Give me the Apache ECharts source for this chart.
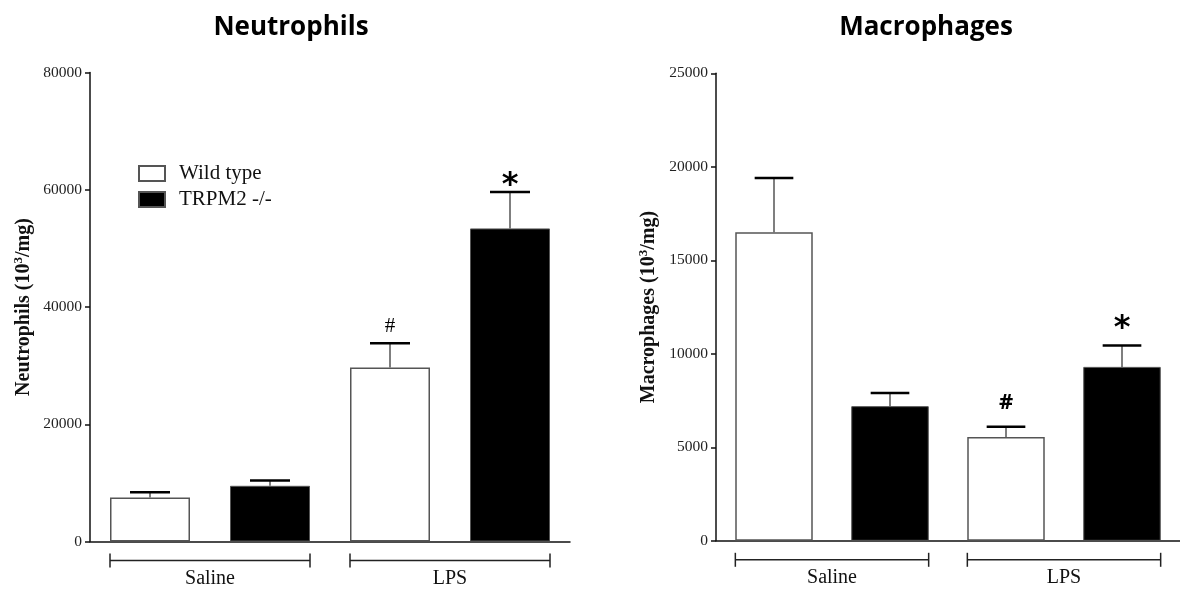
<!DOCTYPE html>
<html>
<head>
<meta charset="utf-8">
<title>Neutrophils and Macrophages</title>
<script src="https://cdn.jsdelivr.net/npm/echarts@6/dist/echarts.min.js"></script>
<style>
  html, body { margin: 0; padding: 0; background: #fff; }
  #chart { width: 1180px; height: 592px; }
</style>
</head>
<body>
<div id="chart"></div>
<script>
// Bar order: Wild type / TRPM2 -/- for Saline, then for LPS
const categories = ['Saline WT', 'Saline KO', 'LPS WT', 'LPS KO'];
const groups = ['Saline', 'LPS'];
const seriesNames = ['Wild type', 'TRPM2 -/-'];

// Neutrophils (10^3/mg): mean and mean + SEM
const neutroWT = [7500, null, 29700, null];
const neutroKO = [null, 9500, null, 53400];
const neutroUpper = [8400, 10400, 33800, 59600];
const neutroSig = ['', '', '#', '*'];

// Macrophages (10^3/mg): mean and mean + SEM
const macroWT = [16500, null, 5550, null];
const macroKO = [null, 7200, null, 9300];
const macroUpper = [19400, 7900, 6100, 10450];
const macroSig = ['', '', '#', '*'];

const neutroTicks = { min: 0, max: 80000, interval: 20000 };
const macroTicks = { min: 0, max: 25000, interval: 5000 };

const serif = '"Liberation Serif", "Times New Roman", serif';
const sans = '"Open Sans", Lato, sans-serif';

const chart = echarts.init(document.getElementById('chart'));

function means(wt, ko) {
  return wt.map((v, i) => (v != null ? v : ko[i]));
}

function errorData(wt, ko, upper) {
  const m = means(wt, ko);
  return m.map((v, i) => [i, v, upper[i]]);
}

// error bar: gray stem, black cap, optional significance mark above
function makeErrorRenderer(sig, hashFont, hashLift, starLift) {
  return function (params, api) {
    const i = api.value(0);
    const base = api.coord([i, api.value(1)]);
    const top = api.coord([i, api.value(2)]);
    const bw = api.size([1, 0])[0] * 2 / 3;
    const half = bw / 4;
    const mark = sig[params.dataIndex];
    const children = [
      { type: 'line', shape: { x1: base[0], y1: base[1], x2: top[0], y2: top[1] },
        style: { stroke: '#555', lineWidth: 1.5 } },
      { type: 'line', shape: { x1: top[0] - half, y1: top[1], x2: top[0] + half, y2: top[1] },
        style: { stroke: '#000', lineWidth: 2.5 } }
    ];
    if (mark === '*') {
      children.push({ type: 'text', style: {
        text: mark, x: top[0], y: top[1] + 6 - starLift, align: 'center', verticalAlign: 'bottom',
        font: 'bold 32px "DejaVu Sans", sans-serif', fill: '#000' } });
    } else if (mark) {
      children.push({ type: 'text', style: {
        text: mark, x: top[0], y: top[1] - 6 - hashLift, align: 'center', verticalAlign: 'bottom',
        font: hashFont, fill: '#000' } });
    }
    return { type: 'group', children };
  };
}

// group bracket under the x axis with its label
function renderBracket(params, api) {
  const s = api.value(0), e = api.value(2);
  const bw = api.size([1, 0])[0] * 2 / 3;
  const p0 = api.coord([s, 0]);
  const p1 = api.coord([e, 0]);
  const x0 = p0[0] - bw / 2, x1 = p1[0] + bw / 2;
  const y = p0[1] + 19;
  const name = groups[params.dataIndex];
  const st = { stroke: '#222', lineWidth: 1.5 };
  return {
    type: 'group',
    children: [
      { type: 'line', shape: { x1: x0, y1: y, x2: x1, y2: y }, style: st },
      { type: 'line', shape: { x1: x0, y1: y - 7, x2: x0, y2: y + 7 }, style: st },
      { type: 'line', shape: { x1: x1, y1: y - 7, x2: x1, y2: y + 7 }, style: st },
      { type: 'text', style: { text: name, x: (x0 + x1) / 2, y: y + 18, align: 'center',
        verticalAlign: 'middle', font: '20px ' + serif, fill: '#111' } }
    ]
  };
}

const bracketData = [[0, 0, 1], [2, 0, 3]];

function xAxisFor(gridIndex) {
  return {
    type: 'category', gridIndex, data: categories,
    axisLine: { lineStyle: { color: '#111', width: 1.5 } },
    axisTick: { alignWithLabel: true, length: 5, lineStyle: { color: '#333', width: 1.5 } },
    axisLabel: { show: false },
    splitLine: { show: false }
  };
}

function yAxisFor(gridIndex, ticks, label, gap) {
  return {
    type: 'value', gridIndex, min: ticks.min, max: ticks.max, interval: ticks.interval,
    name: label + ' (10{sup|3}/mg)',
    nameLocation: 'middle', nameRotate: 90, nameGap: gap,
    nameTextStyle: {
      fontFamily: serif, fontWeight: 'bold', fontSize: 20, color: '#111', lineHeight: 24,
      rich: { sup: { fontFamily: serif, fontWeight: 'bold', fontSize: 13, lineHeight: 14, verticalAlign: 'top', color: '#111' } }
    },
    axisLine: { show: true, lineStyle: { color: '#111', width: 1.5 } },
    axisTick: { show: true, length: 5, lineStyle: { color: '#111', width: 1.5 } },
    axisLabel: { fontFamily: serif, fontSize: 15.5, color: '#222', margin: 8,
      formatter: v => String(v) },
    splitLine: { show: false }
  };
}

function barPair(gridIndex, wt, ko, width) {
  return [
    { name: seriesNames[0], type: 'bar', xAxisIndex: gridIndex, yAxisIndex: gridIndex,
      data: wt, barWidth: width, barGap: '-100%', silent: true,
      itemStyle: { color: '#fff', borderColor: '#555', borderWidth: 1.5 } },
    { name: seriesNames[1], type: 'bar', xAxisIndex: gridIndex, yAxisIndex: gridIndex,
      data: ko, barWidth: width, barGap: '-100%', silent: true,
      itemStyle: { color: '#000', borderColor: '#555', borderWidth: 1 } }
  ];
}

const option = {
  animation: false,
  backgroundColor: '#fff',
  title: [
    { text: 'Neutrophils', left: 286, top: 10, textAlign: 'center',
      textStyle: { fontFamily: sans, fontWeight: 'bold', fontSize: 26, color: '#000' } },
    { text: 'Macrophages', left: 921, top: 10, textAlign: 'center',
      textStyle: { fontFamily: sans, fontWeight: 'bold', fontSize: 26, color: '#000' } }
  ],
  legend: {
    data: seriesNames, orient: 'vertical', left: 133, top: 158,
    itemWidth: 26, itemHeight: 15, itemGap: 5, icon: 'rect',
    textStyle: { fontFamily: serif, fontSize: 21, color: '#111', padding: [0, 0, 0, 9] },
    selectedMode: false
  },
  grid: [
    { left: 90, top: 72.5, width: 480, height: 469 },
    { left: 716, top: 73.3, width: 466.7, height: 467.5 }
  ],
  xAxis: [xAxisFor(0), xAxisFor(1)],
  yAxis: [
    yAxisFor(0, neutroTicks, 'Neutrophils', 54),
    yAxisFor(1, macroTicks, 'Macrophages', 55)
  ],
  series: [
    ...barPair(0, neutroWT, neutroKO, 80),
    ...barPair(1, macroWT, macroKO, 77.5),
    { type: 'custom', xAxisIndex: 0, yAxisIndex: 0, silent: true, clip: false,
      data: errorData(neutroWT, neutroKO, neutroUpper), encode: { x: 0, y: [1, 2] },
      renderItem: makeErrorRenderer(neutroSig, '21px ' + serif, 0, -4) },
    { type: 'custom', xAxisIndex: 1, yAxisIndex: 1, silent: true, clip: false,
      data: errorData(macroWT, macroKO, macroUpper), encode: { x: 0, y: [1, 2] },
      renderItem: makeErrorRenderer(macroSig, 'bold 22px ' + sans, 7, 7) },
    { type: 'custom', xAxisIndex: 0, yAxisIndex: 0, silent: true, clip: false,
      data: bracketData, encode: { x: 0, y: 1 }, renderItem: renderBracket },
    { type: 'custom', xAxisIndex: 1, yAxisIndex: 1, silent: true, clip: false,
      data: bracketData, encode: { x: 0, y: 1 }, renderItem: renderBracket }
  ]
};

chart.setOption(option);
</script>
</body>
</html>
